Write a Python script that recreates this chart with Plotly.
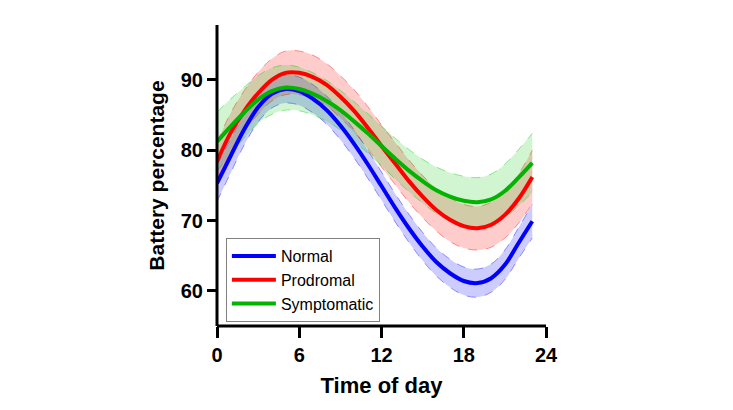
"""Daily battery percentage curves with confidence bands for the three groups"""

import plotly.graph_objects as go

# hour of day
hours = list(range(0, 24))

# fitted battery percentage per group
normal = [75.3, 79.2, 83.0, 86.1, 88.0, 88.7, 88.4, 87.3, 85.7, 83.5, 80.9, 78.0,
          74.9, 71.8, 68.9, 66.3, 64.1, 62.5, 61.4, 61.1, 61.8, 63.7, 66.8, 69.9]
prodromal = [78.4, 82.5, 85.6, 88.1, 90.0, 91.0, 91.0, 90.4, 89.3, 87.6, 85.6, 83.2,
             80.6, 78.1, 75.6, 73.4, 71.5, 70.1, 69.2, 68.9, 69.4, 70.8, 73.1, 76.2]
symptomatic = [81.2, 83.4, 85.4, 87.2, 88.4, 88.9, 88.7, 88.0, 87.0, 85.7, 84.1, 82.4,
               80.6, 78.8, 77.1, 75.6, 74.3, 73.4, 72.8, 72.6, 73.0, 74.2, 76.1, 78.2]

# half width of the shaded band
normal_err = [2.6, 2.4, 2.2, 2.1, 2.0, 2.0, 2.0, 2.0, 2.0, 2.0, 2.0, 2.0,
              2.0, 2.0, 2.0, 2.0, 2.0, 2.0, 2.0, 2.0, 2.0, 2.1, 2.2, 2.4]
prodromal_err = [2.7, 2.8, 2.9, 3.0, 3.0, 3.1, 3.1, 3.1, 3.0, 3.0, 3.0, 3.0,
                 3.0, 3.0, 3.0, 3.0, 3.0, 3.1, 3.1, 3.1, 3.2, 3.3, 3.5, 3.8]
symptomatic_err = [4.2, 3.9, 3.6, 3.4, 3.3, 3.2, 3.1, 3.0, 2.9, 2.8, 2.8, 2.8,
                   2.8, 2.9, 3.0, 3.1, 3.3, 3.4, 3.5, 3.5, 3.6, 3.8, 4.0, 4.2]

x_ticks = [0, 6, 12, 18, 24]
y_ticks = [60, 70, 80, 90]

groups = [
    ("Normal", normal, normal_err, "#0000ff", "rgba(0,0,255,0.2)", "rgba(0,0,255,0.5)"),
    ("Prodromal", prodromal, prodromal_err, "#ff0000", "rgba(255,0,0,0.2)", "rgba(255,0,0,0.5)"),
    ("Symptomatic", symptomatic, symptomatic_err, "#00b400", "rgba(0,200,0,0.18)", "rgba(0,200,0,0.5)"),
]

fig = go.Figure()

# shaded bands first so the lines sit on top
for name, y, err, color, fill, edge_color in groups:
    lower = [v - e for v, e in zip(y, err)]
    upper = [v + e for v, e in zip(y, err)]
    edge = dict(color=edge_color, width=0.8, dash="dash", shape="spline")
    fig.add_trace(go.Scatter(x=hours, y=lower, mode="lines", line=edge,
                             showlegend=False, hoverinfo="skip"))
    fig.add_trace(go.Scatter(x=hours, y=upper, mode="lines", line=edge,
                             fill="tonexty", fillcolor=fill,
                             showlegend=False, hoverinfo="skip"))

for name, y, err, color, fill, edge_color in groups:
    fig.add_trace(go.Scatter(x=hours, y=y, mode="lines", name=name,
                             line=dict(color=color, width=4, shape="spline")))

# axis lines drawn on the plot edges so the 0 tick meets the y axis
fig.add_shape(type="line", xref="paper", yref="paper", x0=0, x1=0, y0=0, y1=1,
              line=dict(color="black", width=3))
fig.add_shape(type="line", xref="paper", yref="paper", x0=0, x1=1, y0=0, y1=0,
              line=dict(color="black", width=3))

font_family = "Liberation Sans, Arial"
tick_font = dict(family=font_family, size=20, color="black", weight="bold")

# the page adds an 8px body margin, so the figure is 8px smaller than the window
fig.update_layout(
    width=725,
    height=402,
    margin=dict(l=209, r=187, t=17, b=84, autoexpand=False),
    paper_bgcolor="white",
    plot_bgcolor="white",
    font=dict(family=font_family, color="black"),
    legend=dict(
        x=0.027, y=0.292, xanchor="left", yanchor="top",
        traceorder="normal",
        bordercolor="#808080", borderwidth=1, bgcolor="white",
        font=dict(family=font_family, size=16, color="black"),
        itemwidth=44,
    ),
    xaxis=dict(
        range=[0, 24], tickvals=x_ticks, showgrid=False, zeroline=False,
        showline=False,
        ticks="outside", ticklen=11, tickwidth=3, tickcolor="black",
        tickfont=tick_font, automargin=False,
        title=dict(text="Time of day", standoff=12,
                   font=dict(family=font_family, size=22, color="black", weight="bold")),
    ),
    yaxis=dict(
        range=[55.0, 97.8], tickvals=y_ticks, showgrid=False, zeroline=False,
        showline=False,
        ticks="outside", ticklen=9, tickwidth=3, tickcolor="black",
        tickfont=tick_font, automargin=False,
        title=dict(text="Battery percentage", standoff=10,
                   font=dict(family=font_family, size=21, color="black", weight="bold")),
    ),
)

fig.write_html("out.html")
